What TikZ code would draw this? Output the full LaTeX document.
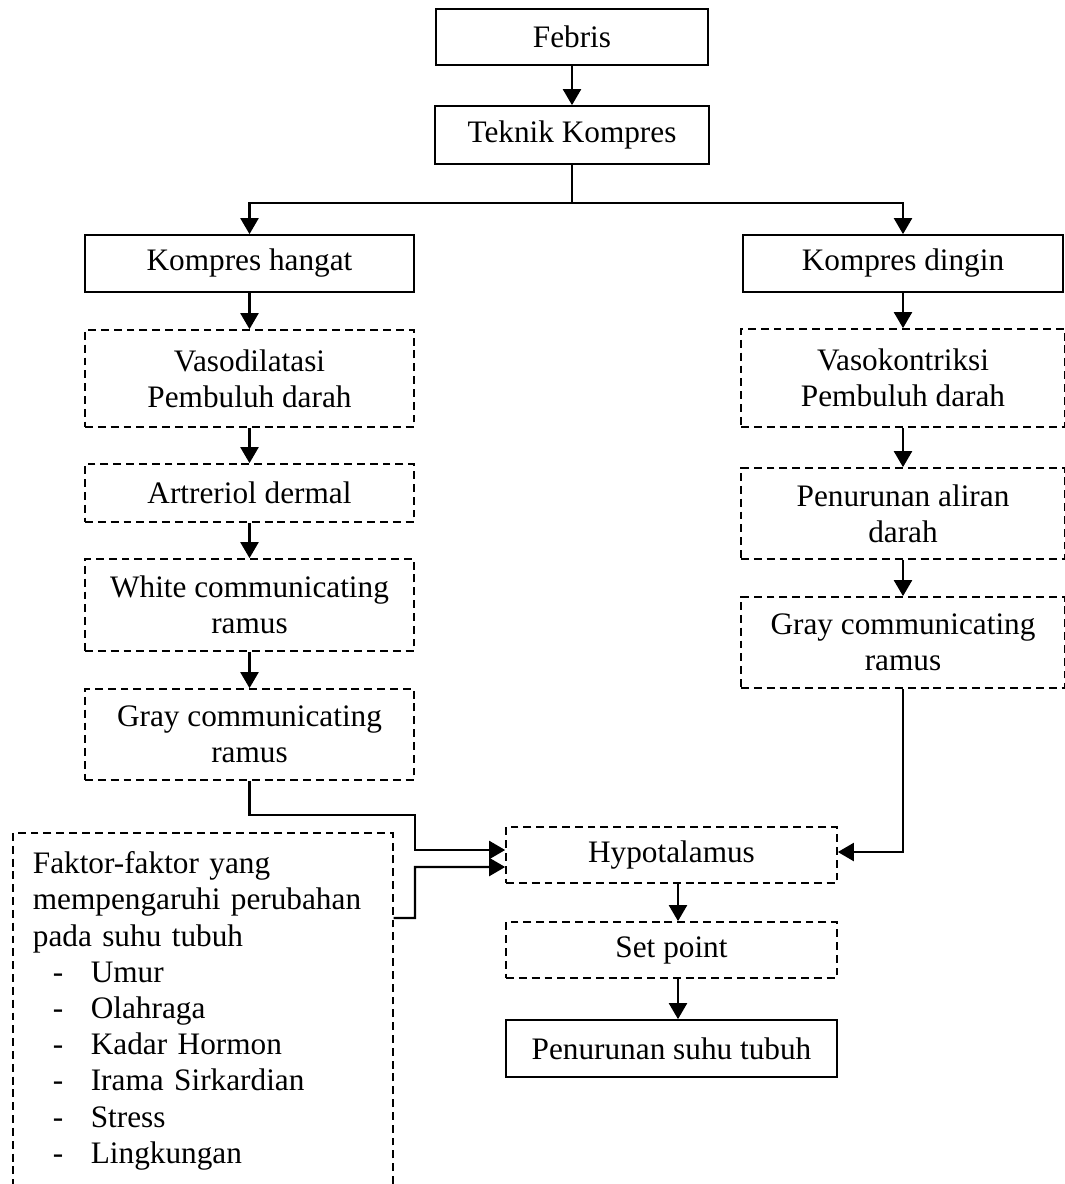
\documentclass[tikz,border=0pt]{standalone}
\usepackage{fontspec}
\setmainfont{Liberation Serif}
\usetikzlibrary{arrows.meta}

\begin{document}
\begin{tikzpicture}[x=0.02cm, y=-0.02cm,
		font=\fontsize{17.8}{20.6}\selectfont,
		box/.style={draw, line width=1pt, inner sep=0pt, align=center, minimum width=#1},
		dbox/.style={box=#1, dash pattern=on 4.5pt off 2.8pt},
		arrow/.style={line width=1.3pt, -{Triangle[width=0.36cm,length=0.32cm]}}]
				\useasboundingbox (0,0) rectangle (1065,1184);
				% middle
				\node[box=5.44cm, minimum height=1.12cm] (febris) at (572,37) {Febris};
				\node[box=5.48cm, minimum height=1.16cm] (teknik) at (572,135) {Teknik Kompres};
				\coordinate (split) at (572,203);
				% left column
				\node[box=6.58cm, minimum height=1.14cm] (hangat) at (249.5,263.5) {Kompres hangat};
				\node[dbox=6.58cm, minimum height=1.94cm] (vasodil) at (249.5,378.5) {Vasodilatasi\\ Pembuluh darah};
				\node[dbox=6.58cm, minimum height=1.16cm] (artreriol) at (249.5,493) {Artreriol dermal};
				\node[dbox=6.58cm, minimum height=1.84cm] (white) at (249.5,605) {White communicating\\ ramus};
				\node[dbox=6.58cm, minimum height=1.82cm] (grayL) at (249.5,734.5) {Gray communicating\\ ramus};
				% right column
				\node[box=6.4cm, minimum height=1.14cm] (dingin) at (903,263.5) {Kompres dingin};
				\node[dbox=6.48cm, minimum height=1.96cm] (vasokon) at (903,378) {Vasokontriksi\\ Pembuluh darah};
				\node[dbox=6.48cm, minimum height=1.82cm] (aliran) at (903,513.5) {Penurunan aliran\\ darah};
				\node[dbox=6.48cm, minimum height=1.82cm] (grayR) at (903,642.5) {Gray communicating\\ ramus};
				% bottom
				\node[dbox=6.62cm, minimum height=1.12cm] (hypo) at (671.5,855) {Hypotalamus};
				\node[dbox=6.62cm, minimum height=1.12cm] (setpoint) at (671.5,950) {Set point};
				\node[box=6.62cm, minimum height=1.14cm] (suhu) at (671.5,1048.5) {Penurunan suhu tubuh};
				\node[dbox=7.6cm, minimum height=7.12cm, anchor=north west, align=left,
					text width=6.8cm, inner xsep=0.4cm] (faktor) at (12,832) {Faktor-faktor yang\\
					mempengaruhi perubahan\\ pada suhu tubuh\\
					\makebox[1.16cm][l]{\hspace{0.4cm}-}Umur\\
					\makebox[1.16cm][l]{\hspace{0.4cm}-}Olahraga\\
					\makebox[1.16cm][l]{\hspace{0.4cm}-}Kadar Hormon\\
					\makebox[1.16cm][l]{\hspace{0.4cm}-}Irama Sirkardian\\
					\makebox[1.16cm][l]{\hspace{0.4cm}-}Stress\\
					\makebox[1.16cm][l]{\hspace{0.4cm}-}Lingkungan};
				\coordinate (jointA) at (415,815);
				\coordinate (jointB) at (415,867);
				% connectors
				\draw[arrow] (febris) -- (teknik);
				\draw[line width=1.3pt] (teknik) -- (split);
				\draw[arrow] (split) -| (hangat);
				\draw[arrow] (split) -| (dingin);
				\draw[arrow] (hangat) -- (vasodil);
				\draw[arrow] (vasodil) -- (artreriol);
				\draw[arrow] (artreriol) -- (white);
				\draw[arrow] (white) -- (grayL);
				\draw[arrow] (dingin) -- (vasokon);
				\draw[arrow] (vasokon) -- (aliran);
				\draw[arrow] (aliran) -- (grayR);
				\draw[arrow] (grayL.south) |- (jointA) |- ([yshift=0.1cm]hypo.west);
				\draw[arrow] ([yshift=-1.72cm]faktor.north east) -| (jointB) -- ([yshift=-0.24cm]hypo.west);
				\draw[arrow] (grayR.south) |- ([yshift=0.06cm]hypo.east);
				\draw[arrow] ([xshift=0.13cm]hypo.south) -- ([xshift=0.13cm]setpoint.north);
				\draw[arrow] ([xshift=0.13cm]setpoint.south) -- ([xshift=0.13cm]suhu.north);
			\end{tikzpicture}
\end{document}
